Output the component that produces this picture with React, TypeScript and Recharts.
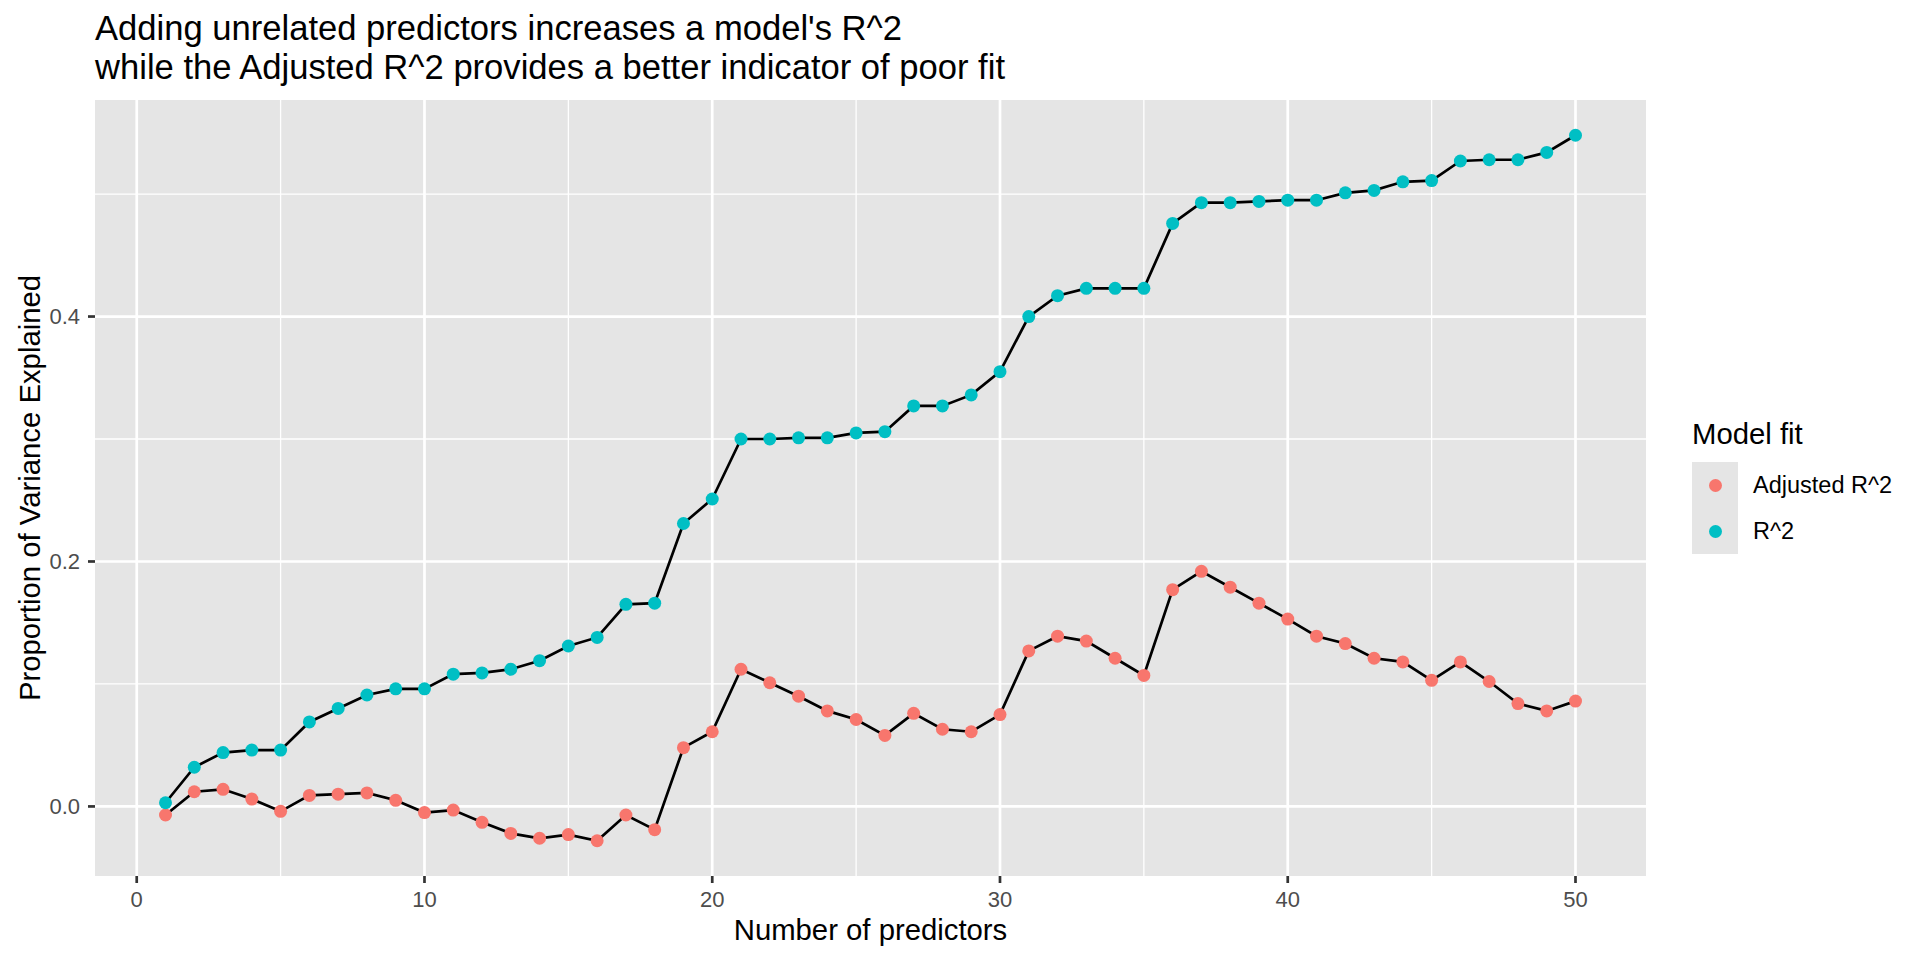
import { ComposedChart, Line, XAxis, YAxis, CartesianGrid, Legend, Label } from "recharts";

const predictors = [
  1, 2, 3, 4, 5, 6, 7, 8, 9, 10, 11, 12, 13, 14, 15, 16, 17, 18, 19, 20, 21, 22, 23, 24, 25,
  26, 27, 28, 29, 30, 31, 32, 33, 34, 35, 36, 37, 38, 39, 40, 41, 42, 43, 44, 45, 46, 47, 48, 49, 50,
];

const rSquared = [
  0.003, 0.032, 0.044, 0.046, 0.046, 0.069, 0.08, 0.091, 0.096, 0.096, 0.108, 0.109, 0.112, 0.119, 0.131,
  0.138, 0.165, 0.166, 0.231, 0.251, 0.3, 0.3, 0.301, 0.301, 0.305, 0.306, 0.327, 0.327, 0.336, 0.355,
  0.4, 0.417, 0.423, 0.423, 0.423, 0.476, 0.493, 0.493, 0.494, 0.495, 0.495, 0.501, 0.503, 0.51, 0.511,
  0.527, 0.528, 0.528, 0.534, 0.548,
];

const adjRSquared = [
  -0.007, 0.012, 0.014, 0.006, -0.004, 0.009, 0.01, 0.011, 0.005, -0.005, -0.003, -0.013, -0.022, -0.026,
  -0.023, -0.028, -0.007, -0.019, 0.048, 0.061, 0.112, 0.101, 0.09, 0.078, 0.071, 0.058, 0.076, 0.063,
  0.061, 0.075, 0.127, 0.139, 0.135, 0.121, 0.107, 0.177, 0.192, 0.179, 0.166, 0.153, 0.139, 0.133,
  0.121, 0.118, 0.103, 0.118, 0.102, 0.084, 0.078, 0.086,
];

const xTicks = [0, 10, 20, 30, 40, 50];
const xMinor = [5, 15, 25, 35, 45];
const yTicks = [0, 0.2, 0.4];
const yMinor = [0.1, 0.3, 0.5];

const seriesNames = ["Adjusted R^2", "R^2"];
const seriesColors = ["#F8766D", "#00BFC4"];

const PANEL = "#E5E5E5";
const FONT = '"Liberation Sans", Arial, Helvetica, sans-serif';

// ggplot-style 5% expansion of the data range
const expand = (vals: number[]) => {
  const lo = Math.min(...vals);
  const hi = Math.max(...vals);
  const pad = (hi - lo) * 0.05;
  return [lo - pad, hi + pad];
};

const data = predictors.map((n, i) => ({ n, r2: rSquared[i], adj: adjRSquared[i] }));
const xDomain = expand(predictors);
const yDomain = expand([...rSquared, ...adjRSquared]);

function LegendBox() {
  return (
    <div style={{ fontFamily: FONT, color: "#000" }}>
      <div style={{ fontSize: 29.3, lineHeight: "32px", marginBottom: 12, whiteSpace: "nowrap" }}>Model fit</div>
      {seriesNames.map((name, i) => (
        <div key={name} style={{ display: "flex", alignItems: "center", height: 46 }}>
          <div style={{ width: 46, height: 46, background: PANEL, display: "flex", alignItems: "center", justifyContent: "center" }}>
            <span style={{ width: 13, height: 13, borderRadius: "50%", background: seriesColors[i] }} />
          </div>
          <span style={{ fontSize: 23.5, marginLeft: 15, whiteSpace: "nowrap" }}>{name}</span>
        </div>
      ))}
    </div>
  );
}

export default function App() {
  return (
    <div style={{ position: "absolute", left: 0, top: 0, width: 1920, height: 960, background: "#fff", fontFamily: FONT }}>
      <div style={{ position: "absolute", left: 95, top: 9, fontSize: 34.6, lineHeight: "39px", color: "#000", whiteSpace: "nowrap" }}>
        <div>Adding unrelated predictors increases a model's R^2</div>
        <div>while the Adjusted R^2 provides a better indicator of poor fit</div>
      </div>
      <ComposedChart width={1920} height={960} data={data} margin={{ top: 100, right: 274, bottom: 0, left: 0 }}>
        <CartesianGrid
          fill={PANEL}
          fillOpacity={1}
          stroke="#fff"
          strokeWidth={1.3}
          horizontalValues={yMinor}
          verticalValues={xMinor}
        />
        <CartesianGrid stroke="#fff" strokeWidth={2.7} horizontalValues={yTicks} verticalValues={xTicks} />
        <XAxis
          type="number"
          dataKey="n"
          domain={xDomain}
          allowDataOverflow
          ticks={xTicks}
          height={84}
          tickSize={7}
          tickMargin={8}
          axisLine={false}
          tickLine={{ stroke: "#333333", strokeWidth: 2.7 }}
          tick={{ fontSize: 22, fill: "#4D4D4D" }}
        >
          <Label
            content={({ viewBox }: any) => (
              <text x={viewBox.x + viewBox.width / 2} y={viewBox.y + 64} textAnchor="middle" fontSize={29.3} fill="#000">
                Number of predictors
              </text>
            )}
          />
        </XAxis>
        <YAxis
          type="number"
          domain={yDomain}
          allowDataOverflow
          ticks={yTicks}
          width={95}
          tickSize={7}
          tickMargin={8}
          axisLine={false}
          tickLine={{ stroke: "#333333", strokeWidth: 2.7 }}
          tick={{ fontSize: 22, fill: "#4D4D4D" }}
          tickFormatter={(v: number) => v.toFixed(1)}
        >
          <Label
            content={({ viewBox }: any) => {
              const cx = viewBox.x + 40;
              const cy = viewBox.y + viewBox.height / 2;
              return (
                <text x={cx} y={cy} transform={`rotate(-90 ${cx} ${cy})`} textAnchor="middle" fontSize={29.3} fill="#000">
                  Proportion of Variance Explained
                </text>
              );
            }}
          />
        </YAxis>
        <Line dataKey="adj" stroke="none" isAnimationActive={false} activeDot={false} dot={{ r: 6.5, fill: seriesColors[0], stroke: "none" }} />
        <Line dataKey="r2" stroke="none" isAnimationActive={false} activeDot={false} dot={{ r: 6.5, fill: seriesColors[1], stroke: "none" }} />
        <Line dataKey="adj" type="linear" stroke="#000" strokeWidth={2.7} dot={false} activeDot={false} isAnimationActive={false} />
        <Line dataKey="r2" type="linear" stroke="#000" strokeWidth={2.7} dot={false} activeDot={false} isAnimationActive={false} />
        <Legend
          layout="vertical"
          align="center"
          verticalAlign="middle"
          wrapperStyle={{ left: 1692, top: 418, width: 225 }}
          content={() => <LegendBox />}
        />
      </ComposedChart>
    </div>
  );
}
